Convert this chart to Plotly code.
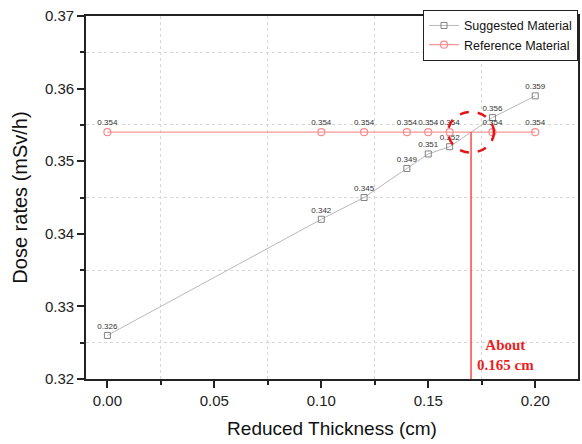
import plotly.graph_objects as go

# ---- data ----
thickness = [0.00, 0.10, 0.12, 0.14, 0.15, 0.16, 0.18, 0.20]
suggested = [0.326, 0.342, 0.345, 0.349, 0.351, 0.352, 0.356, 0.359]
reference = [0.354, 0.354, 0.354, 0.354, 0.354, 0.354, 0.354, 0.354]
series_names = ["Suggested Material", "Reference Material"]
cross_x = 0.17
cross_y = 0.354
note_text = "About<br>0.165 cm"
x_title = "Reduced Thickness (cm)"
y_title = "Dose rates (mSv/h)"

fig = go.Figure()
fig.add_trace(go.Scatter(
    x=thickness, y=suggested, name=series_names[0],
    mode="lines+markers+text",
    line=dict(color="rgb(185,185,185)", width=1),
    marker=dict(symbol="square-open", size=6, color="rgb(130,130,130)", line=dict(width=1)),
    text=[f"{v:.3f}" for v in suggested], textposition="top center",
    textfont=dict(family="Arial, Liberation Sans", size=8, color="#333"),
))
fig.add_trace(go.Scatter(
    x=thickness, y=reference, name=series_names[1],
    mode="lines+markers+text",
    line=dict(color="rgb(250,150,150)", width=1.3),
    marker=dict(symbol="circle-open", size=7, color="rgb(250,140,140)", line=dict(width=1.2)),
    text=[f"{v:.3f}" for v in reference], textposition="top center",
    textfont=dict(family="Arial, Liberation Sans", size=8, color="#333"),
))

# annotation shapes
fig.add_shape(type="line", xref="x", yref="y", x0=cross_x, x1=cross_x, y0=cross_y, y1=0.32,
              line=dict(color="rgb(255,70,70)", width=1.5))
fig.add_shape(type="circle", xref="x", yref="y",
              x0=cross_x - 0.0107, x1=cross_x + 0.0107,
              y0=cross_y - 0.0028, y1=cross_y + 0.0028,
              line=dict(color="rgb(230,20,20)", width=2.5, dash="dash"))
fig.add_annotation(x=cross_x, y=0.3233, xref="x", yref="y", text=note_text,
                   showarrow=False, xanchor="left", xshift=4, align="center",
                   font=dict(family="Liberation Serif, Times New Roman", size=15, color="rgb(235,30,30)",
                             weight="bold"))

axis_common = dict(
    showline=True, linecolor="#222", linewidth=1.8, mirror=True,
    ticks="outside", ticklen=7, tickwidth=1.5, tickcolor="#222",
    showgrid=False, zeroline=False,
    tickfont=dict(family="Arial, Liberation Sans", size=15, color="#222"),
)
fig.update_xaxes(**axis_common, range=[-0.01, 0.22], dtick=0.05, tick0=0, tickformat=".2f",
                 minor=dict(dtick=0.025, tick0=0, ticks="outside", ticklen=4, tickcolor="#222",
                            showgrid=True, gridcolor="rgb(215,215,215)", griddash="dot", gridwidth=1),
                 title=dict(text=x_title, font=dict(family="Arial, Liberation Sans", size=19, color="#111"), standoff=14))
fig.update_yaxes(**axis_common, range=[0.32, 0.37], dtick=0.01, tick0=0.32, tickformat=".2f",
                 minor=dict(dtick=0.005, tick0=0.32, ticks="outside", ticklen=4, tickcolor="#222",
                            showgrid=True, gridcolor="rgb(215,215,215)", griddash="dot", gridwidth=1),
                 title=dict(text=y_title, font=dict(family="Arial, Liberation Sans", size=20, color="#111"), standoff=12))

fig.update_layout(
    width=582, height=444,
    margin=dict(l=86, r=2, t=16, b=65),
    paper_bgcolor="white", plot_bgcolor="white",
    showlegend=True,
    legend=dict(x=1, y=1.017, xanchor="right", yanchor="top",
                bordercolor="#222", borderwidth=1, bgcolor="white",
                font=dict(family="Arial, Liberation Sans", size=12.5, color="#111"),
                tracegroupgap=0, itemwidth=30),
)

# remove the default page margin so the figure sits at the window's top-left corner
fig.write_html("out.html", config={"displayModeBar": False},
               post_script="document.body.style.margin='0px';")
